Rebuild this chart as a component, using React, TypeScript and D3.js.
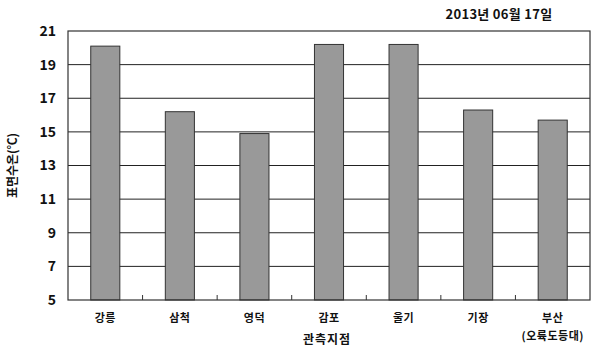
import React from "react";
import * as d3 from "d3";

const categories = ["강릉", "삼척", "영덕", "감포", "울기", "기장", "부산\n(오륙도등대)"];
const values = [20.1, 16.2, 14.9, 20.2, 20.2, 16.3, 15.7];
const yTicks = [5, 7, 9, 11, 13, 15, 17, 19, 21];
const title = "2013년 06월 17일";
const yTitle = "표면수온(℃)";
const xTitle = "관측지점";

const W = 601, H = 349;
const M = { left: 68, right: 11, top: 31, bottom: 49 };
const FONT = "'Noto Sans CJK KR', 'Noto Sans', sans-serif";

export default function App() {
  const x = d3.scaleBand().domain(categories).range([M.left, W - M.right]).paddingInner(0).paddingOuter(0);
  const y = d3.scaleLinear().domain([5, 21]).range([H - M.bottom, M.top]);
  const bw = x.bandwidth() * 0.39;
  return (
    <svg width={W} height={H} style={{ position: "absolute", left: 0, top: 0, background: "#fff" }} fontFamily={FONT}>
      <rect x={0} y={0} width={W} height={H} fill="#fff" />
      {yTicks.slice(1, -1).map(t => (
        <line key={t} x1={M.left} x2={W - M.right} y1={y(t)} y2={y(t)} stroke="#222" strokeWidth={1} />
      ))}
      {categories.map((c, i) => (
        <rect key={c} x={x(c)! + x.bandwidth() / 2 - bw / 2} y={y(values[i])} width={bw} height={y(5) - y(values[i])}
          fill="#999999" stroke="#333" strokeWidth={1} />
      ))}
      <rect x={M.left} y={M.top} width={W - M.left - M.right} height={H - M.top - M.bottom} fill="none" stroke="#333" strokeWidth={1.2} />
      {categories.slice(1).map(c => (
        <line key={c} x1={x(c)!} x2={x(c)!} y1={y(5)} y2={y(5) - 5} stroke="#333" />
      ))}
      {yTicks.map(t => (
        <text key={t} x={56} y={y(t)} dy="0.35em" textAnchor="end" fontSize={14} fontWeight="bold" fill="#111">{t}</text>
      ))}
      {categories.map(c => {
        const lines = c.split("\n");
        return (
          <text key={c} x={x(c)! + x.bandwidth() / 2} y={322} textAnchor="middle" fontSize={11} fontWeight="bold" fill="#111" letterSpacing={0.5}>
            {lines.map((l, j) => <tspan key={j} x={x(c)! + x.bandwidth() / 2} dy={j === 0 ? 0 : 18}>{l}</tspan>)}
          </text>
        );
      })}
      <text x={327} y={344} textAnchor="middle" fontSize={12} fontWeight="bold" fill="#111" letterSpacing={1}>{xTitle}</text>
      <text transform={`translate(17,${(M.top + H - M.bottom) / 2}) rotate(-90)`} textAnchor="middle" fontSize={12} fontWeight="bold" fill="#111">{yTitle}</text>
      <text x={499} y={19} textAnchor="middle" fontSize={13} fontWeight="bold" fill="#111" letterSpacing={0.3}>{title}</text>
    </svg>
  );
}
